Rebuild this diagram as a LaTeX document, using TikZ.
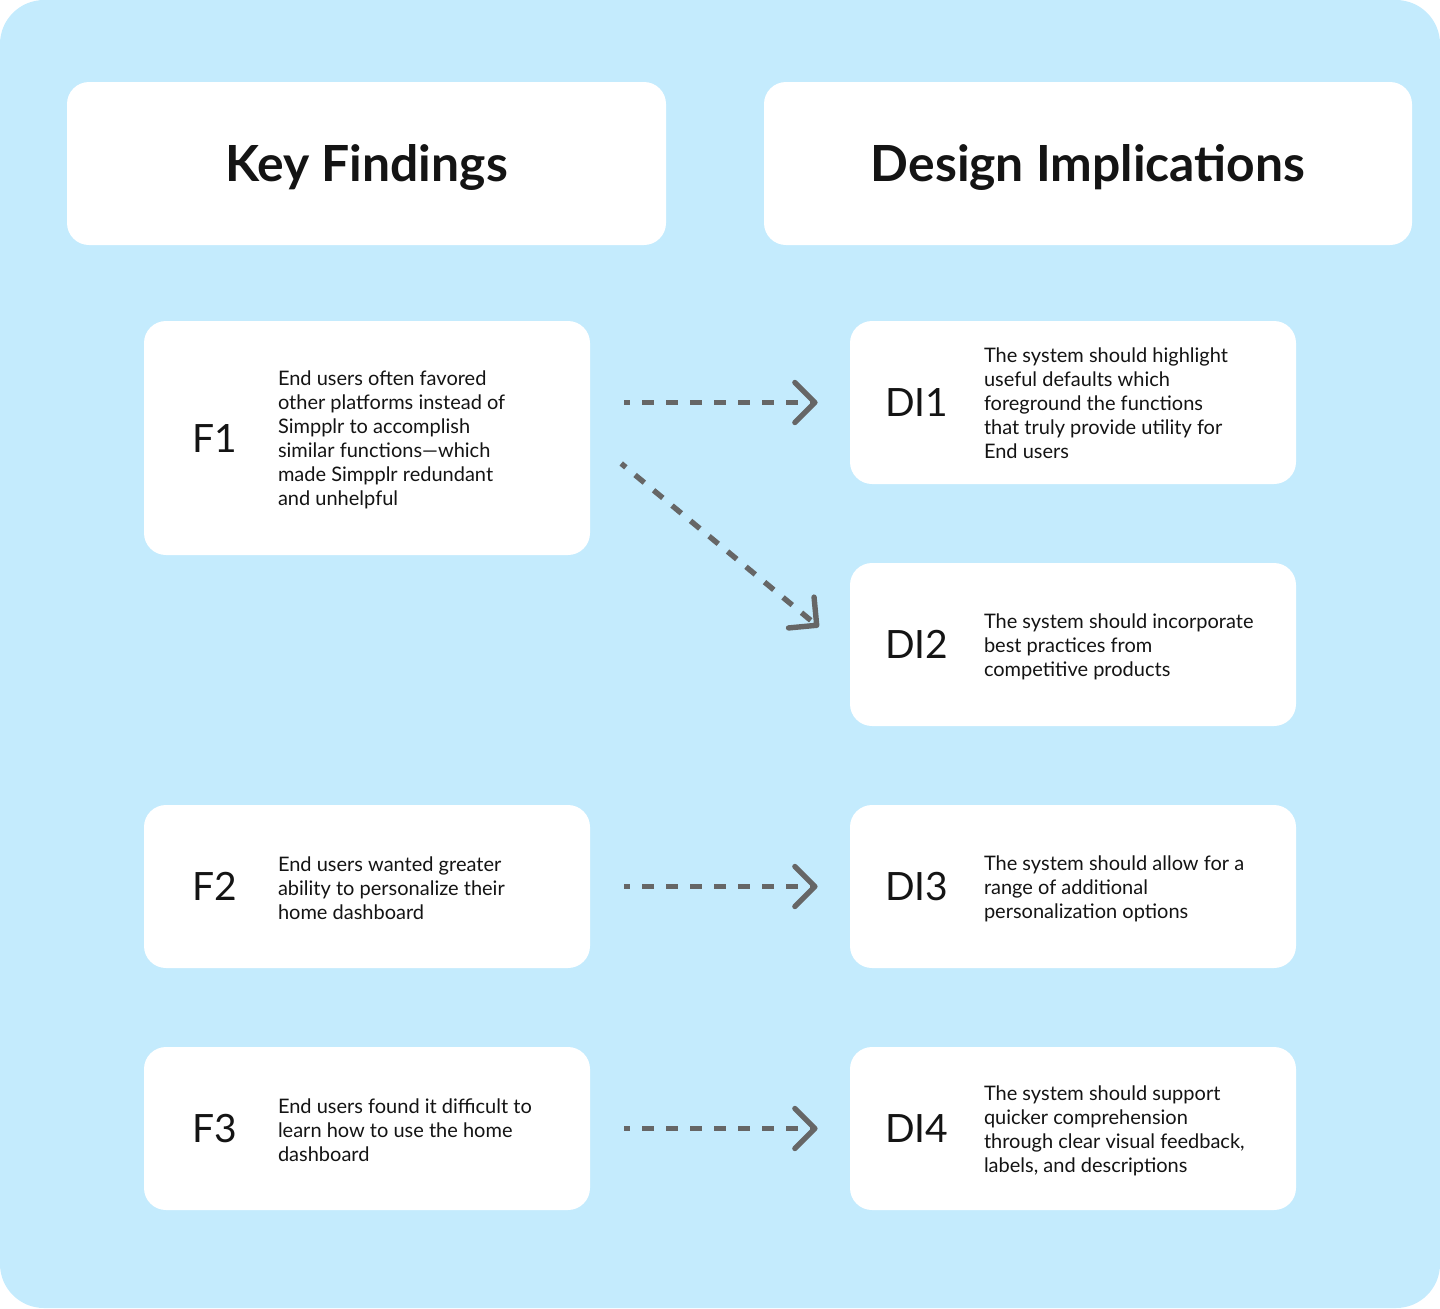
\documentclass[tikz,border=0pt]{standalone}
\usepackage{fontspec}
\setmainfont{Lato}
\usetikzlibrary{arrows.meta,positioning}
\definecolor{skyback}{RGB}{196,235,253}
\definecolor{linkgray}{RGB}{102,102,102}
\definecolor{inkblack}{RGB}{20,20,20}
\tikzset{
  panel/.style={fill=white, rounded corners=11pt, inner sep=0pt,
    minimum width=223pt, minimum height=81.5pt},
  headpanel/.style={panel, font=\bfseries\fontsize{24.9}{30}\selectfont, text=inkblack},
  tag/.style={font=\fontsize{19.5}{23}\selectfont, text=inkblack},
  blurb/.style={anchor=west, align=left, inner sep=0pt,
    font=\fontsize{10}{12}\selectfont, text=inkblack},
  link/.style={draw=linkgray, line width=2.7pt, dash pattern=on 6pt off 6pt, dash phase=3pt,
    -{Straight Barb[length=10pt,width=20pt,round]}},
}
\begin{document}
\begin{tikzpicture}[x=0.5pt, y=-0.5pt]
  \useasboundingbox (0,0) rectangle (1440,1308);
  \fill[skyback, rounded corners=22pt] (0,0) rectangle (1440,1308);
  % headers
  \node[panel] (kf) at (366.5,163.5) [minimum width=299.5pt] {};
  \node[panel] (di) at (1088,163.5) [minimum width=324pt] {};
  \node[headpanel, fill=none, minimum width=0pt, minimum height=0pt] (kf-title) at ([yshift=-2pt]kf.center) {Key Findings};
  \node[headpanel, fill=none, minimum width=0pt, minimum height=0pt] (di-title) at ([yshift=-2pt]di.center) {Design Implications};
  % findings
  \node[panel, minimum height=117pt] (f1) at (367,438) {};
  \node[panel] (f2) at (367,886.5) {};
  \node[panel] (f3) at (367,1128.5) {};
  % implications
  \node[panel] (di1) at (1073,402.5) {};
  \node[panel] (di2) at (1073,644.5) {};
  \node[panel] (di3) at (1073,886.5) {};
  \node[panel] (di4) at (1073,1128.5) {};
  % labels
  \foreach \cell/\name in {f1/F1, f2/F2, f3/F3}
    \node[tag] (\cell-tag) at ([xshift=35.5pt]\cell.west) {\name};
  \foreach \cell/\name in {di1/DI1, di2/DI2, di3/DI3, di4/DI4}
    \node[tag] (\cell-tag) at ([xshift=33.5pt]\cell.west) {\name};
  % texts
  \node[blurb] (f1-text) at ([xshift=67pt,yshift=-1pt]f1.west) {End users often favored\\other platforms instead of\\Simpplr to accomplish\\similar functions\textemdash which\\made Simpplr redundant\\and unhelpful};
  \node[blurb] (f2-text) at ([xshift=67pt,yshift=-1pt]f2.west) {End users wanted greater\\ability to personalize their\\home dashboard};
  \node[blurb] (f3-text) at ([xshift=67pt,yshift=-1pt]f3.west) {End users found it difficult to\\learn how to use the home\\dashboard};
  \node[blurb] (di1-text) at ([xshift=67pt,yshift=-0.5pt]di1.west) {The system should highlight\\useful defaults which\\foreground the functions\\that truly provide utility for\\End users};
  \node[blurb] (di2-text) at ([xshift=67pt,yshift=-1pt]di2.west) {The system should incorporate\\best practices from\\competitive products};
  \node[blurb] (di3-text) at ([xshift=67pt,yshift=-1pt]di3.west) {The system should allow for a\\range of additional\\personalization options};
  \node[blurb] (di4-text) at ([xshift=67pt,yshift=-1pt]di4.west) {The system should support\\quicker comprehension\\through clear visual feedback,\\labels, and descriptions};
  % arrows
  \draw[link, shorten <=17pt, shorten >=16pt] (f1.east |- di1.west) -- (di1);
  \draw[link, shorten <=20pt, shorten >=20pt] (f1.east) -- ([yshift=-4pt]di2.west);
  \draw[link, shorten <=17pt, shorten >=16pt] (f2) -- (di3);
  \draw[link, shorten <=17pt, shorten >=16pt] (f3) -- (di4);
\end{tikzpicture}
\end{document}
